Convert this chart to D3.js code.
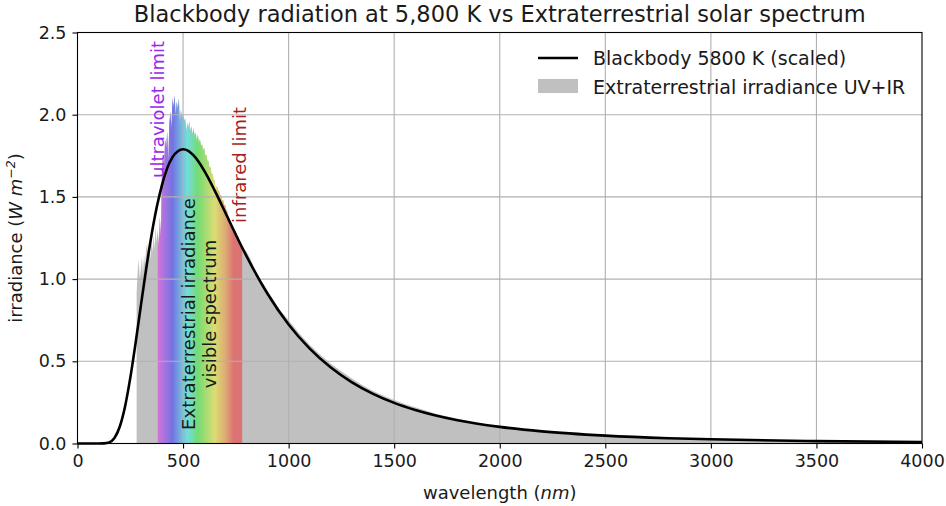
<!DOCTYPE html>
<html>
<head>
<meta charset="utf-8">
<script src="https://cdn.jsdelivr.net/npm/d3@7"></script>
<style>
  body { margin: 0; background: #fff; }
  text { font-family: "DejaVu Sans", sans-serif; fill: #1a1a1a; }
</style>
</head>
<body>
<script>
// blackbody 5800 K (scaled)
const bbWavelength = [0, 50, 100, 125, 150, 175, 200, 225, 250, 275, 300, 325, 350, 375, 400, 425, 450, 475, 500, 525, 550, 600, 650, 700, 750, 800, 900, 1000, 1100, 1200, 1300, 1400, 1500, 1600, 1800, 2000, 2200, 2500, 2800, 3000, 3500, 4000];
const bbIrradiance = [0, 0, 0, 0.001, 0.007, 0.034, 0.102, 0.224, 0.399, 0.610, 0.837, 1.060, 1.263, 1.435, 1.572, 1.675, 1.742, 1.778, 1.790, 1.780, 1.752, 1.660, 1.538, 1.405, 1.270, 1.141, 0.911, 0.724, 0.577, 0.462, 0.372, 0.302, 0.247, 0.204, 0.1415, 0.101, 0.0737, 0.0479, 0.0323, 0.0254, 0.0146, 0.009];

// extraterrestrial spectrum
const solarWavelength = [280, 285, 290, 295, 300, 305, 310, 315, 320, 325, 330, 335, 340, 345, 350, 355, 360, 365, 370, 375,
  380, 385, 390, 395, 400, 405, 410, 415, 420, 425, 430, 435, 440, 445, 450, 455, 460, 465, 470, 475,
  480, 485, 490, 495, 500, 505, 510, 515, 520, 525, 530, 535, 540, 545, 550, 555, 560, 565, 570, 575,
  580, 585, 590, 595, 600, 605, 610, 615, 620, 625, 630, 635, 640, 645, 650, 655, 660, 665, 670, 675,
  680, 685, 690, 695, 700, 705, 710, 715, 720, 725, 730, 735, 740, 745, 750, 755, 760, 765, 770, 775,
  780, 790, 800, 820, 840, 860, 880, 900, 920, 940, 960, 980, 1000, 1050, 1100, 1150, 1200, 1250, 1300, 1350,
  1400, 1450, 1500, 1550, 1600, 1650, 1700, 1800, 1900, 2000, 2100, 2200, 2300, 2400, 2500, 2600, 2800, 3000, 3200, 3400,
  3600, 3800, 4000];
const solarIrradiance = [0.92, 1.05, 1.12, 1.00, 1.06, 1.14, 1.02, 1.15, 1.08, 1.18, 1.22, 1.10, 1.20, 1.12, 1.24, 1.16, 1.27, 1.18, 1.32, 1.22,
  1.30, 1.20, 1.38, 1.26, 1.68, 1.75, 1.70, 1.85, 1.80, 1.90, 1.72, 1.95, 2.02, 1.92, 2.10, 2.05, 2.12, 2.00, 2.08, 2.04,
  2.10, 1.95, 2.03, 1.98, 2.00, 1.96, 1.98, 1.90, 1.95, 1.92, 1.96, 1.90, 1.93, 1.88, 1.92, 1.87, 1.89, 1.84, 1.88, 1.83,
  1.85, 1.81, 1.82, 1.78, 1.80, 1.75, 1.76, 1.72, 1.72, 1.68, 1.68, 1.64, 1.64, 1.60, 1.60, 1.53, 1.57, 1.54, 1.54, 1.51,
  1.51, 1.48, 1.48, 1.45, 1.45, 1.42, 1.41, 1.38, 1.37, 1.34, 1.34, 1.31, 1.31, 1.29, 1.29, 1.26, 1.26, 1.24, 1.23, 1.21,
  1.20, 1.18, 1.17, 1.12, 1.06, 1.01, 0.97, 0.93, 0.89, 0.85, 0.81, 0.78, 0.75, 0.67, 0.60, 0.54, 0.485, 0.44, 0.395, 0.355,
  0.32, 0.29, 0.265, 0.24, 0.22, 0.20, 0.18, 0.15, 0.125, 0.105, 0.09, 0.077, 0.067, 0.058, 0.05, 0.044, 0.034, 0.026, 0.021, 0.017,
  0.014, 0.011, 0.0095];

// visible band colours
const bandStops = [380, 420, 450, 500, 520, 570, 610, 650, 700, 740, 780];
const bandColors = ["#d673d6", "#9c73e0", "#7373e2", "#73c4de", "#73dcdc", "#73dc73", "#a8dc73", "#dcdc73", "#dcab73", "#dc7373", "#dc7373"];

const xTicks = [0, 500, 1000, 1500, 2000, 2500, 3000, 3500, 4000];
const yTicks = [0.0, 0.5, 1.0, 1.5, 2.0, 2.5];

const width = 946;
const height = 506;

const x = d3.scaleLinear().domain([0, 4000]).range([77.5, 922]);
const y = d3.scaleLinear().domain([0, 2.5]).range([443.5, 32.5]);

const svg = d3.select("body").append("svg")
  .attr("width", width)
  .attr("height", height);

const defs = svg.append("defs");

const solar = solarWavelength.map((w, i) => ({ w: w, v: solarIrradiance[i] }));
const bb = bbWavelength.map((w, i) => ({ w: w, v: bbIrradiance[i] }));

const solarArea = d3.area()
  .x(d => x(d.w))
  .y0(y(0))
  .y1(d => y(d.v));

defs.append("clipPath").attr("id", "solarClip")
  .append("path")
  .attr("d", solarArea(solar));

const grad = defs.append("linearGradient")
  .attr("id", "rainbow")
  .attr("gradientUnits", "userSpaceOnUse")
  .attr("x1", x(380)).attr("x2", x(780))
  .attr("y1", 0).attr("y2", 0);

grad.selectAll("stop")
  .data(bandStops)
  .enter().append("stop")
  .attr("offset", d => (d - 380) / 400)
  .attr("stop-color", (d, i) => bandColors[i]);

// grey spectrum
svg.append("path")
  .attr("d", solarArea(solar))
  .attr("fill", "#c0c0c0");

// visible part
svg.append("rect")
  .attr("x", x(380))
  .attr("y", y(2.5))
  .attr("width", x(780) - x(380))
  .attr("height", y(0) - y(2.5))
  .attr("fill", "url(#rainbow)")
  .attr("clip-path", "url(#solarClip)");

// grid
svg.append("g").selectAll("line")
  .data(xTicks.slice(1, -1))
  .enter().append("line")
  .attr("x1", d => x(d)).attr("x2", d => x(d))
  .attr("y1", y(0)).attr("y2", y(2.5))
  .attr("stroke", "#b0b0b0").attr("stroke-width", 1.1);

svg.append("g").selectAll("line")
  .data(yTicks.slice(1, -1))
  .enter().append("line")
  .attr("x1", x(0)).attr("x2", x(4000))
  .attr("y1", d => y(d)).attr("y2", d => y(d))
  .attr("stroke", "#b0b0b0").attr("stroke-width", 1.1);

// blackbody curve
const line = d3.line()
  .x(d => x(d.w))
  .y(d => y(d.v))
  .curve(d3.curveMonotoneX);

svg.append("path")
  .attr("d", line(bb))
  .attr("fill", "none")
  .attr("stroke", "#000")
  .attr("stroke-width", 2.6);

// frame
svg.append("rect")
  .attr("x", x(0)).attr("y", y(2.5))
  .attr("width", x(4000) - x(0))
  .attr("height", y(0) - y(2.5))
  .attr("fill", "none")
  .attr("stroke", "#000")
  .attr("stroke-width", 1.1);

// axes
const xAxis = svg.append("g")
  .attr("transform", `translate(0,${y(0)})`)
  .call(d3.axisBottom(x).tickValues(xTicks).tickSize(5).tickPadding(6).tickFormat(d3.format("d")));
const yAxis = svg.append("g")
  .attr("transform", `translate(${x(0)},0)`)
  .call(d3.axisLeft(y).tickValues(yTicks).tickSize(5).tickPadding(6).tickFormat(d3.format(".1f")));

[xAxis, yAxis].forEach(g => {
  g.select(".domain").remove();
  g.selectAll(".tick line").attr("stroke", "#000").attr("stroke-width", 1.1);
  g.selectAll(".tick text").style("font-size", "17.5px").style("font-family", "DejaVu Sans").attr("fill", "#1a1a1a");
});

// title and labels
svg.append("text")
  .attr("x", (x(0) + x(4000)) / 2)
  .attr("y", 22)
  .attr("text-anchor", "middle")
  .style("font-size", "22.5px")
  .text("Blackbody radiation at 5,800 K vs Extraterrestrial solar spectrum");

const xl = svg.append("text")
  .attr("x", (x(0) + x(4000)) / 2)
  .attr("y", 499)
  .attr("text-anchor", "middle")
  .style("font-size", "18px");
xl.append("tspan").text("wavelength (");
xl.append("tspan").style("font-style", "italic").text("nm");
xl.append("tspan").text(")");

const yl = svg.append("text")
  .attr("transform", `translate(22,${(y(0) + y(2.5)) / 2}) rotate(-90)`)
  .attr("text-anchor", "middle")
  .style("font-size", "18px");
yl.append("tspan").text("irradiance (");
yl.append("tspan").style("font-style", "italic").text("W m");
yl.append("tspan").style("font-style", "italic").style("font-size", "12.5px").attr("dy", -7).text("−2");
yl.append("tspan").attr("dy", 7).text(")");

// annotations
svg.append("text")
  .attr("transform", "translate(164,178) rotate(-90)")
  .style("font-size", "18px")
  .style("fill", "#9b27e8")
  .text("ultraviolet limit");

svg.append("text")
  .attr("transform", "translate(245.5,223) rotate(-90)")
  .style("font-size", "18px")
  .style("fill", "#a81e22")
  .text("infrared limit");

svg.append("text")
  .attr("transform", "translate(194.5,314) rotate(-90)")
  .attr("text-anchor", "middle")
  .style("font-size", "18px")
  .text("Extraterrestrial irradiance");

svg.append("text")
  .attr("transform", "translate(215.5,314) rotate(-90)")
  .attr("text-anchor", "middle")
  .style("font-size", "18px")
  .text("visible spectrum");

// legend
const legend = svg.append("g");
legend.append("line")
  .attr("x1", 538).attr("x2", 578)
  .attr("y1", 58).attr("y2", 58)
  .attr("stroke", "#000").attr("stroke-width", 2.6);
legend.append("text")
  .attr("x", 593).attr("y", 65)
  .style("font-size", "19px")
  .text("Blackbody 5800 K (scaled)");
legend.append("rect")
  .attr("x", 538).attr("y", 79)
  .attr("width", 40).attr("height", 14)
  .attr("fill", "#c0c0c0");
legend.append("text")
  .attr("x", 593).attr("y", 93.5)
  .style("font-size", "19px")
  .text("Extraterrestrial irradiance UV+IR");
</script>
</body>
</html>
